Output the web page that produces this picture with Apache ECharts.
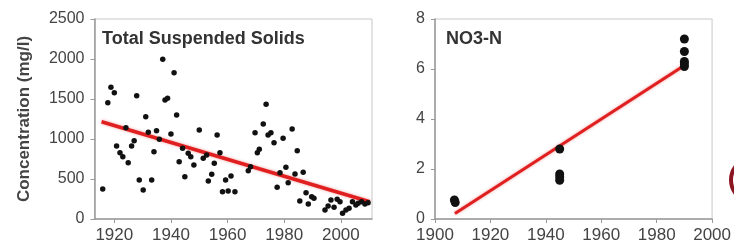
<!DOCTYPE html>
<html><head><meta charset="utf-8">
<script src="https://cdn.jsdelivr.net/npm/echarts@6/dist/echarts.min.js"></script>
<style>html,body{margin:0;padding:0;background:#fff}#c{width:734px;height:248px}</style>
</head><body><div id="c"></div>
<script>
// Total Suspended Solids (left panel)
const tssYears = [1915.9,1917.7,1918.8,1920,1920.8,1922,1923,1924.1,1924.9,1926.1,1927,1927.9,1928.8,1930.2,1931.1,1932,1933.2,1934,1934.9,1935.9,1937.1,1937.9,1938.8,1940,1941.1,1942,1942.9,1944.1,1944.9,1946.1,1947,1948.1,1950,1951.4,1952.6,1953.2,1954.4,1955.3,1956.3,1957.3,1958.2,1959.3,1960.2,1961.2,1962.6,1967.3,1968.1,1969.7,1970.5,1971.2,1972.6,1973.6,1974.3,1975.3,1976.4,1977.5,1978.5,1979.6,1980.6,1981.4,1982.8,1983.8,1984.6,1985.5,1986.7,1987.7,1988.5,1989.7,1990.5,1994.4,1995.5,1996.5,1997.6,1998.7,1999.7,2000.6,2001.8,2002.9,2004.1,2005.3,2006.1,2007.3,2008.5,2009.6];
const tssValues = [375,1454,1646,1579,912,829,779,1141,704,912,979,1541,487,362,1279,1083,487,841,1104,996,1996,1487,1508,1062,1829,1300,716,883,529,821,779,675,1112,758,800,475,558,696,1050,829,341,487,350,537,341,604,654,1079,829,871,1187,1433,1050,1079,954,396,579,1008,646,454,1125,562,854,225,583,329,187,279,258,112,162,237,146,246,216,71,112,133,216,175,196,216,187,204];
const tssTrendYears = [1915.5, 2010.2];
const tssTrendValues = [1216, 216];
const tssXTicks = [1920,1940,1960,1980,2000];

// NO3-N (right panel)
const no3Years = [1907,1907.3,1945,1945,1945,1945,1990,1990,1990,1990,1990];
const no3Values = [0.76,0.66,2.8,1.8,1.68,1.55,7.2,6.7,6.3,6.2,6.1];
const no3TrendYears = [1907.2, 1989.4];
const no3TrendValues = [0.22, 6.1];

const zip = (a,b)=>a.map((v,i)=>[v,b[i]]);
const plain = v => String(v);
const lab = {color:'#444', fontFamily:'Liberation Sans, Arial, sans-serif', formatter:plain};
const chart = echarts.init(document.getElementById('c'), null, {renderer:'canvas'});
chart.setOption({
  animation:false,
  title:[
    {text:'Total Suspended Solids', left:102, top:30, padding:0, textStyle:{fontSize:18,fontWeight:'bold',color:'#333',fontFamily:'Liberation Sans, Arial, sans-serif'}},
    {text:'NO3-N', left:446, top:30, padding:0, textStyle:{fontSize:18,fontWeight:'bold',color:'#333',fontFamily:'Liberation Sans, Arial, sans-serif'}}
  ],
  grid:[
    {left:94.5, right:362, top:19, bottom:29, show:true, borderColor:'#c8c8c8', borderWidth:1},
    {left:435, right:21, top:19, bottom:29, show:true, borderColor:'#c8c8c8', borderWidth:1}
  ],
  xAxis:[
    {gridIndex:0, type:'value', min:1913, max:2011, splitLine:{show:false},
     axisLine:{lineStyle:{color:'#999',width:1.5}},
     axisTick:{customValues:tssXTicks, length:4, lineStyle:{color:'#999'}},
     axisLabel:Object.assign({customValues:tssXTicks, fontSize:17, margin:8}, lab)},
    {gridIndex:1, type:'value', min:1900, max:2000, interval:20, splitLine:{show:false},
     axisLine:{lineStyle:{color:'#999',width:1.5}},
     axisTick:{length:4, lineStyle:{color:'#999'}},
     axisLabel:Object.assign({fontSize:17, margin:8, showMaxLabel:true, showMinLabel:true}, lab)}
  ],
  yAxis:[
    {gridIndex:0, type:'value', min:0, max:2500, interval:500, splitLine:{show:false},
     axisLine:{show:true, lineStyle:{color:'#999',width:1.5}},
     axisTick:{show:true, length:4, lineStyle:{color:'#999'}},
     axisLabel:Object.assign({fontSize:16, margin:10}, lab),
     name:'Concentration (mg/l)', nameLocation:'middle', nameGap:62, nameRotate:90,
     nameTextStyle:{fontSize:17, fontWeight:'bold', color:'#444', fontFamily:'Liberation Sans, Arial, sans-serif'}},
    {gridIndex:1, type:'value', min:0, max:8, interval:2, splitLine:{show:false},
     axisLine:{show:true, lineStyle:{color:'#999',width:1.5}},
     axisTick:{show:true, length:4, lineStyle:{color:'#999'}},
     axisLabel:Object.assign({fontSize:16, margin:10}, lab)}
  ],
  series:[
    {type:'line', xAxisIndex:0, yAxisIndex:0, data:zip(tssTrendYears,tssTrendValues), symbol:'none',
     lineStyle:{color:'#e02020', width:3.5, shadowColor:'rgba(230,60,60,0.5)', shadowBlur:3}, z:1},
    {type:'scatter', xAxisIndex:0, yAxisIndex:0, data:zip(tssYears,tssValues), symbolSize:5.5,
     itemStyle:{color:'#111', opacity:1}, z:3},
    {type:'line', xAxisIndex:1, yAxisIndex:1, data:zip(no3TrendYears,no3TrendValues), symbol:'none',
     lineStyle:{color:'#e02020', width:3, shadowColor:'rgba(230,60,60,0.5)', shadowBlur:3}, z:1},
    {type:'scatter', xAxisIndex:1, yAxisIndex:1, data:zip(no3Years,no3Values), symbolSize:9,
     itemStyle:{color:'#111', opacity:1}, z:3}
  ],
  graphic:[
    {type:'circle', shape:{cx:753, cy:180, r:22}, style:{fill:'none', stroke:'#8b1520', lineWidth:4}}
  ]
});
</script></body></html>
